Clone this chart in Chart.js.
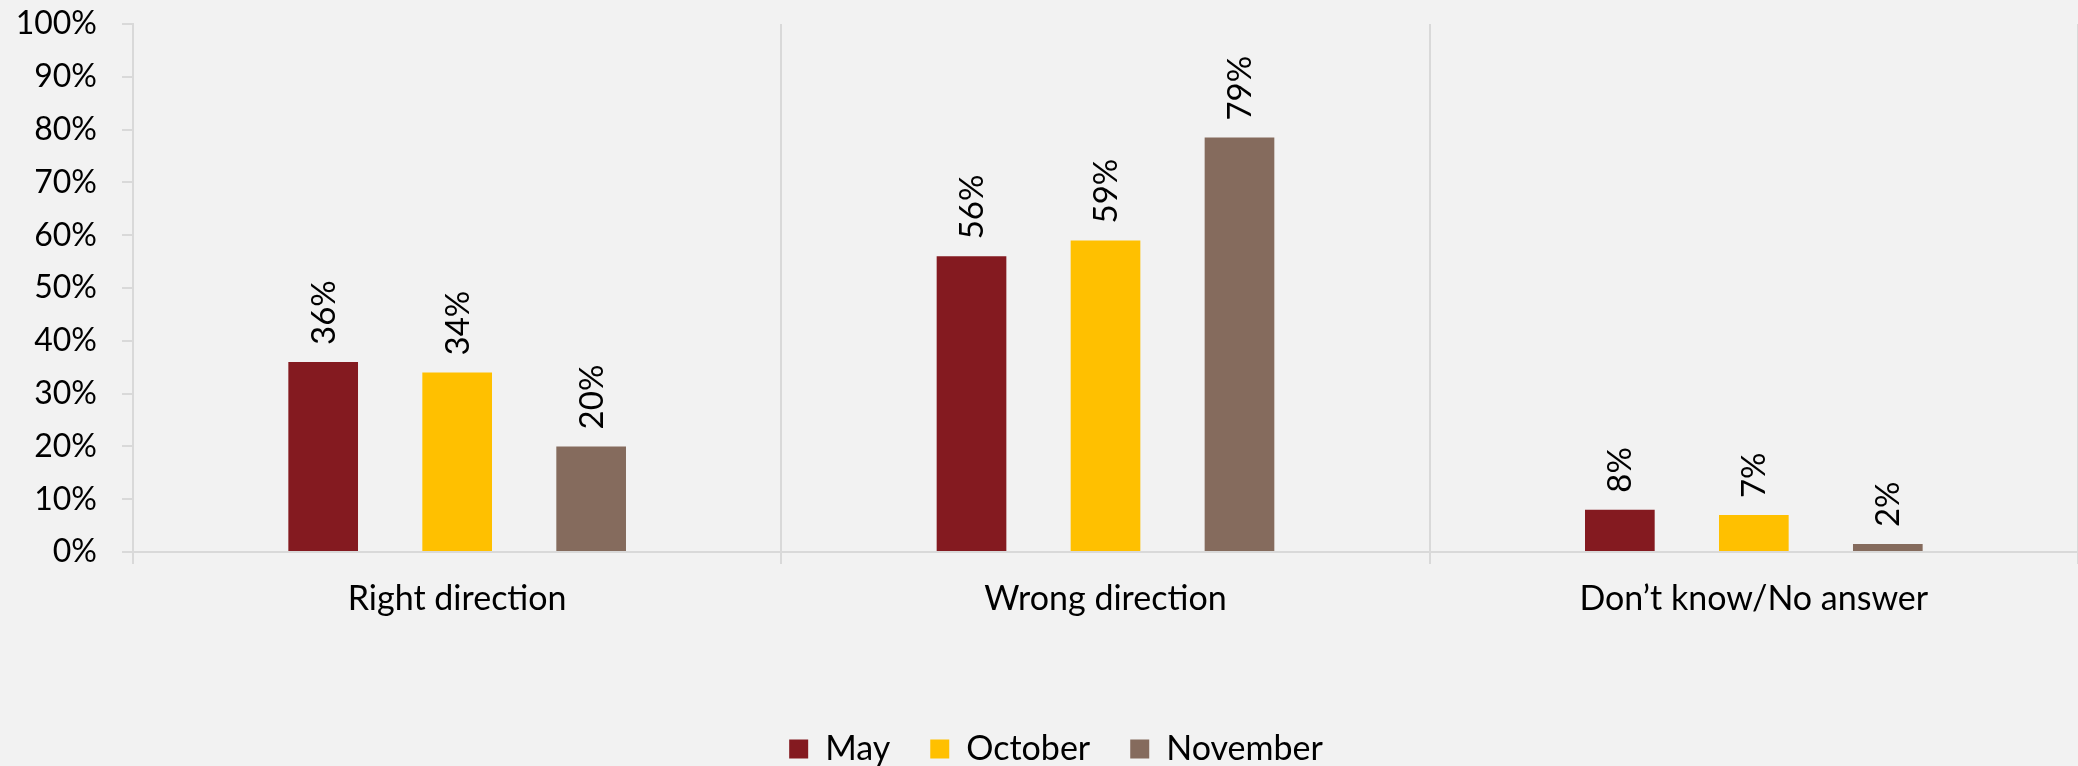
<!DOCTYPE html>
<html lang="en">
<head>
    <meta charset="UTF-8">
    <title>Right / wrong direction</title>
    <script src="https://cdn.jsdelivr.net/npm/chart.js"></script>
    <style>
        body {
            margin: 0;
            background-color: #f2f2f2;
        }
        .wrap {
            width: 2078px;
            height: 766px;
        }
    </style>
</head>
<body>
    <div class="wrap">
        <canvas id="grafica"></canvas>
    </div>

    <script>
        // datos
        const categorias = ['Right direction', 'Wrong direction', 'Don\u2019t know/No answer'];
        const series = ['May', 'October', 'November'];
        const valoresMay = [36, 56, 8];
        const valoresOctober = [34, 59, 7];
        const valoresNovember = [20, 78.5, 1.5];
        const colores = ['#841a20', '#ffc000', '#856b5d'];
        const ticksY = [0, 10, 20, 30, 40, 50, 60, 70, 80, 90, 100];

        const fuente = 'Lato';
        const gris = '#d9d9d9';

        // etiquetas giradas encima de cada barra
        const etiquetasBarras = {
            id: 'etiquetasBarras',
            afterDatasetsDraw(chart) {
                const ctx = chart.ctx;
                ctx.save();
                ctx.fillStyle = '#000';
                ctx.font = '33px ' + fuente;
                ctx.textAlign = 'left';
                ctx.textBaseline = 'middle';
                chart.data.datasets.forEach((ds, i) => {
                    chart.getDatasetMeta(i).data.forEach((barra, j) => {
                        ctx.save();
                        ctx.translate(barra.x + 1, barra.y - 17);
                        ctx.rotate(-Math.PI / 2);
                        ctx.fillText(Math.round(ds.data[j]) + '%', 0, 0);
                        ctx.restore();
                    });
                });
                ctx.restore();
            }
        };

        // la leyenda va un poco a la derecha del centro
        const moverLeyenda = {
            id: 'moverLeyenda',
            afterLayout(chart) {
                if (chart.legend) {
                    chart.legend.left += 17;
                    chart.legend.right += 17;
                }
            }
        };

        new Chart(document.getElementById('grafica'), {
            type: 'bar',
            data: {
                labels: categorias,
                datasets: [
                    { label: series[0], data: valoresMay, backgroundColor: colores[0] },
                    { label: series[1], data: valoresOctober, backgroundColor: colores[1] },
                    { label: series[2], data: valoresNovember, backgroundColor: colores[2] }
                ]
            },
            options: {
                responsive: true,
                maintainAspectRatio: false,
                animation: false,
                categoryPercentage: 0.62,
                barPercentage: 0.52,
                layout: { padding: { top: 24, right: 0, left: 0, bottom: -10 } },
                plugins: {
                    tooltip: { enabled: false },
                    legend: {
                        position: 'bottom',
                        labels: {
                            color: '#000',
                            font: { family: fuente, size: 34 },
                            boxWidth: 19,
                            boxHeight: 19,
                            padding: 40
                        }
                    }
                },
                scales: {
                    x: {
                        offset: true,
                        grid: { offset: true, color: gris, lineWidth: 2, tickLength: 12 },
                        border: { display: true, color: gris, width: 2 },
                        ticks: {
                            color: '#000',
                            font: { family: fuente, size: 34 },
                            padding: 15,
                            maxRotation: 0
                        },
                        afterFit(scale) { scale.height = 140; }
                    },
                    y: {
                        min: 0,
                        max: 100,
                        afterBuildTicks(scale) {
                            scale.ticks = ticksY.map(v => ({ value: v }));
                        },
                        grid: { drawOnChartArea: false, color: gris, lineWidth: 2, tickLength: 11 },
                        border: { display: true, color: gris, width: 2 },
                        ticks: {
                            color: '#000',
                            font: { family: fuente, size: 32 },
                            padding: 25,
                            callback: v => v + '%'
                        },
                        afterFit(scale) {
                            scale.width = 133;
                            scale.paddingTop = 0;
                            scale.paddingBottom = 0;
                        }
                    }
                }
            },
            plugins: [etiquetasBarras, moverLeyenda]
        });
    </script>
</body>
</html>
